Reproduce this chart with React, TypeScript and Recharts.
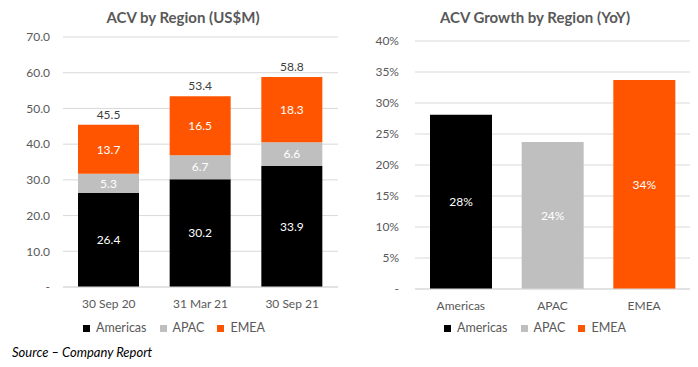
import React from 'react';
import { BarChart, Bar, XAxis, YAxis, CartesianGrid, LabelList, Legend, Cell } from 'recharts';

const periods = ['30 Sep 20', '31 Mar 21', '30 Sep 21'];
const americas = [26.4, 30.2, 33.9];
const apac = [5.3, 6.7, 6.6];
const emea = [13.7, 16.5, 18.3];
const totals = [45.5, 53.4, 58.8];
const leftTicks = [0, 10, 20, 30, 40, 50, 60, 70];

const regions = ['Americas', 'APAC', 'EMEA'];
const growth = [28.1, 23.7, 33.7];
const growthLabels = ['28%', '24%', '34%'];
const rightTicks = [0, 5, 10, 15, 20, 25, 30, 35, 40];

const regionColors = ['#000000', '#BFBFBF', '#FF5500'];

const FONT = 'Lato, "Open Sans", sans-serif';
const TXT = '#595959';

const leftData = periods.map((p, i) => ({
  period: p,
  Americas: americas[i],
  APAC: apac[i],
  EMEA: emea[i],
  total: totals[i],
}));

const rightData = regions.map((r, i) => ({
  region: r,
  growth: growth[i],
  label: growthLabels[i],
}));

const LegendContent = () => (
  <div style={{ display: 'flex', justifyContent: 'center', alignItems: 'center', fontFamily: FONT, fontSize: 12.5, color: TXT, lineHeight: '16px' }}>
    {regions.map((r, i) => (
      <div key={r} style={{ display: 'flex', alignItems: 'center', marginRight: i < regions.length - 1 ? 13 : 0 }}>
        <div style={{ width: 7, height: 7, background: regionColors[i], marginRight: 6 }} />
        <span>{r}</span>
      </div>
    ))}
  </div>
);

export default function App() {
  return (
    <div style={{ position: 'absolute', left: 0, top: 0, width: 698, height: 367, background: '#fff', fontFamily: FONT, overflow: 'hidden' }}>
      <div style={{ position: 'absolute', left: 0, top: 0 }}>
        <BarChart width={350} height={367} data={leftData} margin={{ top: 37, right: 12, bottom: 50, left: 0 }}>
          <CartesianGrid vertical={false} stroke="#D9D9D9" />
          <XAxis dataKey="period" axisLine={{ stroke: '#D9D9D9' }} tickLine={false} tickMargin={6} height={30}
            tick={{ fill: TXT, fontSize: 12, fontFamily: FONT }} />
          <YAxis domain={[0, 70]} ticks={leftTicks} width={63} axisLine={false} tickLine={false} tickMargin={7}
            interval={0}
            tick={{ fill: TXT, fontSize: 12, fontFamily: FONT }}
            tickFormatter={(v: number) => (v === 0 ? '-' : v.toFixed(1))} />
          <Legend layout="horizontal" verticalAlign="middle" align="center" content={<LegendContent />}
            wrapperStyle={{ top: 320, left: -1, width: 350 }} />
          <Bar dataKey="Americas" stackId="a" fill={regionColors[0]} barSize={61} isAnimationActive={false}>
            <LabelList dataKey="Americas" position="center" fill="#FFFFFF" fontSize={12} fontFamily={FONT} formatter={(v: number) => v.toFixed(1)} />
          </Bar>
          <Bar dataKey="APAC" stackId="a" fill={regionColors[1]} barSize={61} isAnimationActive={false}>
            <LabelList dataKey="APAC" position="center" fill="#FFFFFF" fontSize={12} fontFamily={FONT} formatter={(v: number) => v.toFixed(1)} />
          </Bar>
          <Bar dataKey="EMEA" stackId="a" fill={regionColors[2]} barSize={61} isAnimationActive={false}>
            <LabelList dataKey="EMEA" position="center" fill="#FFFFFF" fontSize={12} fontFamily={FONT} formatter={(v: number) => v.toFixed(1)} />
            <LabelList dataKey="total" position="top" offset={6} fill="#404040" fontSize={12} fontFamily={FONT} formatter={(v: number) => v.toFixed(1)} />
          </Bar>
        </BarChart>
      </div>
      <div style={{ position: 'absolute', left: 350, top: 0 }}>
        <BarChart width={348} height={367} data={rightData} margin={{ top: 41, right: 8, bottom: 48, left: 0 }}>
          <CartesianGrid vertical={false} stroke="#D9D9D9" />
          <XAxis dataKey="region" axisLine={{ stroke: '#D9D9D9' }} tickLine={false} tickMargin={6} height={30}
            tick={{ fill: TXT, fontSize: 12, fontFamily: FONT }} />
          <YAxis domain={[0, 40]} ticks={rightTicks} width={65} axisLine={false} tickLine={false} tickMargin={10}
            interval={0}
            tick={{ fill: TXT, fontSize: 12, fontFamily: FONT }}
            tickFormatter={(v: number) => (v === 0 ? '-' : `${v}%`)} />
          <Legend layout="horizontal" verticalAlign="middle" align="center" content={<LegendContent />}
            wrapperStyle={{ top: 320, left: 11, width: 348 }} />
          <Bar dataKey="growth" barSize={62} isAnimationActive={false}>
            {rightData.map((d, i) => (
              <Cell key={d.region} fill={regionColors[i]} />
            ))}
            <LabelList dataKey="label" position="center" fill="#FFFFFF" fontSize={12} fontFamily={FONT} />
          </Bar>
        </BarChart>
      </div>
      <div style={{ position: 'absolute', left: 0, width: 366, top: 8, textAlign: 'center', fontSize: 15, fontWeight: 700, color: TXT, lineHeight: '18px' }}>
        ACV by Region (US$M)
      </div>
      <div style={{ position: 'absolute', left: 350, width: 370, top: 8, textAlign: 'center', fontSize: 15, fontWeight: 700, color: TXT, lineHeight: '18px' }}>
        ACV Growth by Region (YoY)
      </div>
      <div style={{ position: 'absolute', left: 12, top: 344, fontSize: 13, fontStyle: 'italic', color: '#000', lineHeight: '16px' }}>
        Source – Company Report
      </div>
    </div>
  );
}
